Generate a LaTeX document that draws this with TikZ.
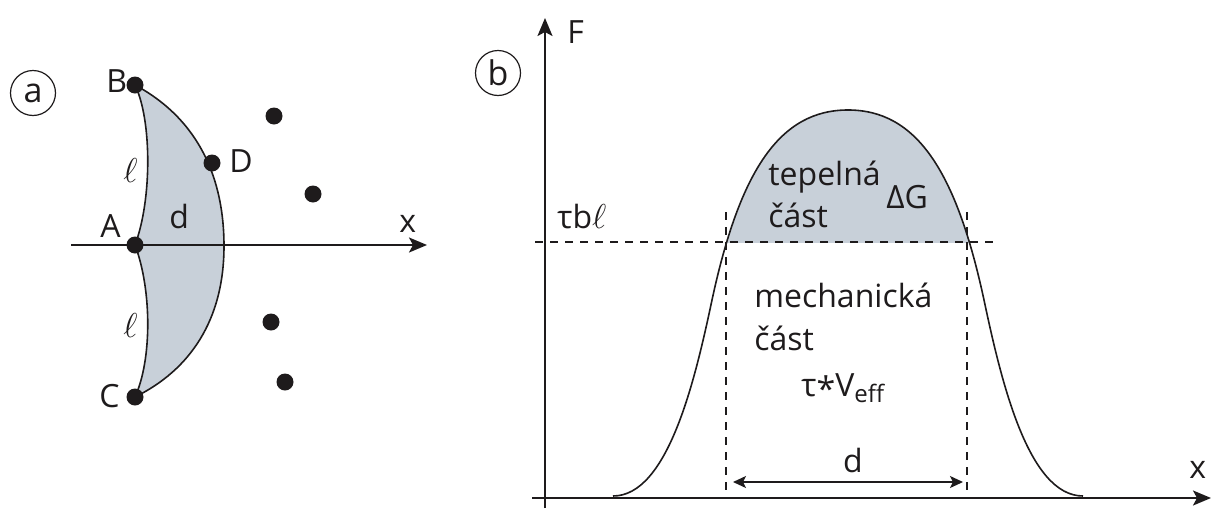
\documentclass[tikz,border=0pt]{standalone}
\usepackage{fontspec}
\setmainfont{Open Sans}
\usetikzlibrary{arrows.meta}
\definecolor{lensfill}{RGB}{200,208,217}
\definecolor{ink}{RGB}{30,27,28}
\begin{document}
\begin{tikzpicture}[x=0.5pt,y=-0.5pt, line join=round,
  lbl/.style={inner sep=0pt, text=ink, font=\fontsize{16}{19}\selectfont},
  dot/.style={circle, fill=ink, inner sep=0pt, minimum size=8.5pt},
  tag/.style={circle, draw=ink, line width=0.6pt, minimum size=22.5pt, inner sep=0pt, font=\fontsize{17}{20}\selectfont, text=ink},
  axis/.style={draw=ink, line width=1pt, -{Stealth[length=9pt,width=7.5pt,inset=2pt]}},
  guide/.style={draw=ink, line width=0.75pt, dash pattern=on 4pt off 3.5pt},
  outline/.style={draw=ink, line width=0.8pt},
  span/.style={draw=ink, line width=0.75pt, {Stealth[length=6.5pt,width=6pt,inset=1.5pt]}-{Stealth[length=6.5pt,width=6pt,inset=1.5pt]}},
]
\useasboundingbox (0,0) rectangle (1211,509);

% ---------------- panel a ----------------
\node[tag] (taga) at (33,93) {a};
\coordinate (B) at (135,85);
\coordinate (A) at (135,245);
\coordinate (C) at (135,397);
\coordinate (Dp) at (212,163);

\fill[lensfill] (B) .. controls (200,120) and (224,180) .. (224,246)
  .. controls (224,320) and (190,370) .. (C)
  .. controls (152,360) and (152,290) .. (A)
  .. controls (152,200) and (152,120) .. (B) -- cycle;
\draw[outline] (B) .. controls (200,120) and (224,180) .. (224,246)
  .. controls (224,320) and (190,370) .. (C)
  .. controls (152,360) and (152,290) .. (A)
  .. controls (152,200) and (152,120) .. (B) -- cycle;

\coordinate (xa0) at (71,245);
\coordinate (xa1) at (427,245);
\draw[axis] (xa0) -- (xa1);

\node[dot] (dB) at (B) {};
\node[dot] (dA) at (A) {};
\node[dot] (dC) at (C) {};
\node[dot] (dD) at (Dp) {};
\node[dot] (p1) at (274,116) {};
\node[dot] (p2) at (313,194) {};
\node[dot] (p3) at (271,322) {};
\node[dot] (p4) at (285,382) {};

\node[lbl, anchor=base west] (lB) at (106,92) {B};
\node[lbl, anchor=base west] (lA) at (100,237) {A};
\node[lbl, anchor=base west] (lC) at (99,407) {C};
\node[lbl, anchor=base west] (lD) at (229,172) {D};
\node[lbl, anchor=base west] (lxa) at (399,232) {x};
\node[lbl, anchor=base west] (ld) at (169,228) {d};
\node[lbl, anchor=base west, font=\fontsize{19}{22}\selectfont] (ll1) at (123,182) {$\ell$};
\node[lbl, anchor=base west, font=\fontsize{19}{22}\selectfont] (ll2) at (123,337) {$\ell$};

% ---------------- panel b ----------------
\node[tag] (tagb) at (498,73) {b};

\begin{scope}
  \clip (540,100) rectangle (1100,242);
  \fill[lensfill] (613,496) .. controls (668,496) and (695,380) .. (712,300)
    .. controls (740,170) and (780,110) .. (848,110)
    .. controls (916,110) and (956,170) .. (984,300)
    .. controls (1001,380) and (1028,496) .. (1083,496) -- cycle;
\end{scope}

\coordinate (h0) at (535,242);
\coordinate (h1) at (998,242);
\coordinate (v1t) at (726,212);
\coordinate (v1b) at (726,498);
\coordinate (v2t) at (967,212);
\coordinate (v2b) at (967,498);
\draw[guide] (h0) -- (h1);
\draw[guide] (v1t) -- (v1b);
\draw[guide] (v2t) -- (v2b);

\draw[outline] (613,496) .. controls (668,496) and (695,380) .. (712,300)
    .. controls (740,170) and (780,110) .. (848,110)
    .. controls (916,110) and (956,170) .. (984,300)
    .. controls (1001,380) and (1028,496) .. (1083,496);

\coordinate (fy0) at (545,508);
\coordinate (fy1) at (545,18);
\coordinate (fx0) at (532,498);
\coordinate (fx1) at (1211,498);
\draw[axis] (fy0) -- (fy1);
\draw[axis] (fx0) -- (fx1);

\coordinate (d0) at (733,482);
\coordinate (d1) at (963,482);
\draw[span] (d0) -- (d1);

\node[lbl, anchor=base west] (lF) at (567,43) {F};
\node[lbl, anchor=base west] (lxb) at (1189,478) {x};
\node[lbl, anchor=base] (ldb) at (853,472) {d};
\node[lbl, anchor=base west] (ltbl) at (557,228) {τb{\fontsize{19}{22}\selectfont$\ell$}};
\node[lbl, anchor=base west] (lt1) at (768,185) {tepelná};
\node[lbl, anchor=base west] (lt2) at (768,227) {část};
\node[lbl, anchor=base west] (ldG) at (886,208) {ΔG};
\node[lbl, anchor=base west] (lm1) at (754,307) {mechanická};
\node[lbl, anchor=base west] (lm2) at (754,350) {část};
\node[lbl, anchor=base west] (ltv) at (801,396) {τ\raisebox{-2.5pt}{\fontsize{17}{20}\selectfont *}V\raisebox{-3pt}{\fontsize{12}{14}\selectfont eff}};
\end{tikzpicture}
\end{document}
